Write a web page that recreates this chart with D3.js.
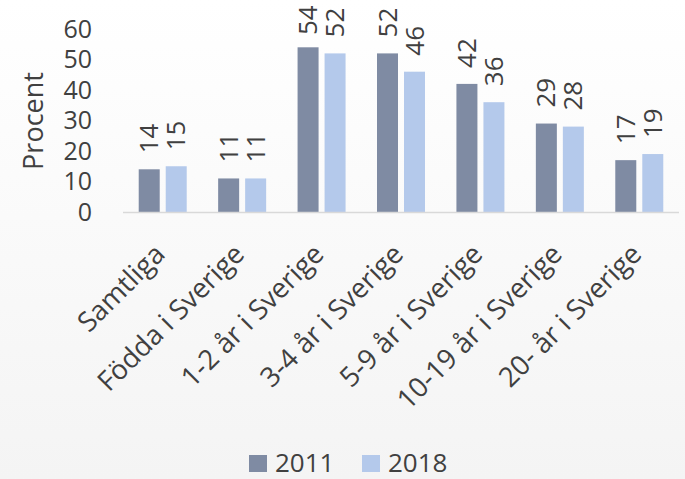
<!DOCTYPE html>
<html>
<head>
<meta charset="utf-8">
<script src="https://cdn.jsdelivr.net/npm/d3@7"></script>
<style>
  body { margin: 0; }
  svg { display: block; font-family: "Open Sans", sans-serif; }
</style>
</head>
<body>
<svg width="685" height="479"></svg>
<script>
// data
var categories = ["Samtliga", "Födda i Sverige", "1-2 år i Sverige", "3-4 år i Sverige",
  "5-9 år i Sverige", "10-19 år i Sverige", "20- år i Sverige"];
var values2011 = [14, 11, 54, 52, 42, 29, 17];
var values2018 = [15, 11, 52, 46, 36, 28, 19];
var seriesNames = ["2011", "2018"];
var yTicks = [0, 10, 20, 30, 40, 50, 60];

var colors = ["#7f8ba3", "#b4c9eb"];
var textColor = "#404040";

var svg = d3.select("svg"),
  width = 685,
  height = 479;

// light background gradient
var defs = svg.append("defs");
var grad = defs.append("linearGradient")
  .attr("id", "bg").attr("x1", 0).attr("y1", 0).attr("x2", 0).attr("y2", 1);
grad.append("stop").attr("offset", "0%").attr("stop-color", "#ffffff");
grad.append("stop").attr("offset", "100%").attr("stop-color", "#f4f4f4");
svg.append("rect").attr("width", width).attr("height", height).attr("fill", "url(#bg)");

var x0 = d3.scaleBand().domain(categories).range([123, 679]).paddingInner(0).paddingOuter(0);
var y = d3.scaleLinear().domain([0, 60]).range([212, 29]);

var barW = 21, barGap = 6;

var data = categories.map(function (c, i) {
  return { cat: c, vals: [values2011[i], values2018[i]] };
});

// y axis tick labels (no line)
svg.append("g")
  .selectAll("text")
  .data(yTicks)
  .enter()
  .append("text")
  .attr("x", 92)
  .attr("y", function (d) { return y(d); })
  .attr("dy", "0.35em")
  .attr("text-anchor", "end")
  .attr("font-size", 25)
  .attr("fill", textColor)
  .text(function (d) { return d; });

svg.append("text")
  .attr("transform", "translate(43,121) rotate(-90)")
  .attr("text-anchor", "middle")
  .attr("font-size", 27)
  .attr("fill", textColor)
  .text("Procent");

// bars
var groups = svg.append("g")
  .selectAll("g")
  .data(data)
  .enter()
  .append("g")
  .attr("transform", function (d) {
    return "translate(" + (x0(d.cat) + x0.bandwidth() / 2) + ",0)";
  });

function barX(j) {
  return j === 0 ? -barGap / 2 - barW : barGap / 2;
}

groups.selectAll("rect")
  .data(function (d) { return d.vals; })
  .enter()
  .append("rect")
  .attr("x", function (d, j) { return barX(j); })
  .attr("y", function (d) { return y(d); })
  .attr("width", barW)
  .attr("height", function (d) { return y(0) - y(d); })
  .attr("fill", function (d, j) { return colors[j]; });

// value labels, rotated; clamped so they stay inside the top
groups.selectAll("text")
  .data(function (d) { return d.vals; })
  .enter()
  .append("text")
  .attr("transform", function (d, j) {
    var ly = Math.max(y(d) - 16, 35);
    return "translate(" + (barX(j) + barW / 2) + "," + ly + ") rotate(-90)";
  })
  .attr("dy", "0.35em")
  .attr("text-anchor", "start")
  .attr("font-size", 26)
  .attr("fill", textColor)
  .text(function (d) { return d; });

// baseline
svg.append("line")
  .attr("x1", 123).attr("x2", 679)
  .attr("y1", y(0) + 0.5).attr("y2", y(0) + 0.5)
  .attr("stroke", "#d9d9d9")
  .attr("stroke-width", 1.5);

// category labels
svg.append("g")
  .selectAll("text")
  .data(categories)
  .enter()
  .append("text")
  .attr("transform", function (d) {
    return "translate(" + (x0(d) + x0.bandwidth() / 2 - 3) + ",249) rotate(-45)";
  })
  .attr("text-anchor", "end")
  .attr("dy", "0.35em")
  .attr("font-size", 27.5)
  .attr("fill", textColor)
  .text(function (d) { return d; });

// legend
var legend = svg.append("g")
  .selectAll("g")
  .data(seriesNames)
  .enter()
  .append("g")
  .attr("transform", function (d, i) { return "translate(" + (249 + i * 113) + ",455)"; });

legend.append("rect")
  .attr("width", 18).attr("height", 17)
  .attr("fill", function (d, i) { return colors[i]; });

legend.append("text")
  .attr("x", 26)
  .attr("y", 8)
  .attr("dy", "0.35em")
  .attr("font-size", 26)
  .attr("fill", textColor)
  .text(function (d) { return d; });
</script>
</body>
</html>
